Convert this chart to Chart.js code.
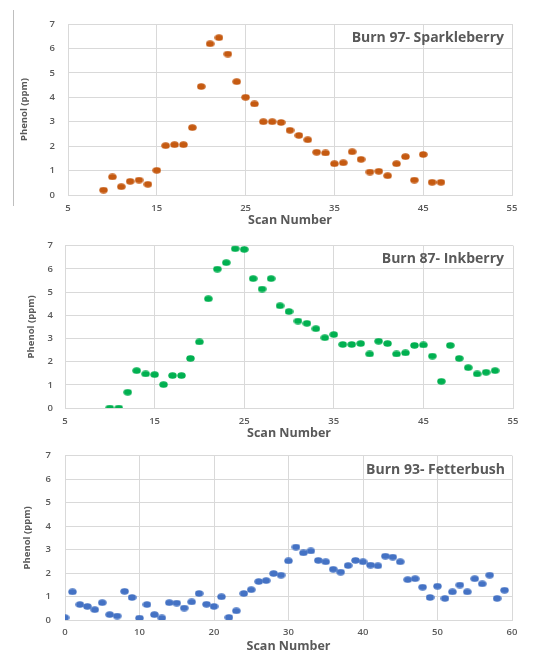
<!DOCTYPE html>
<html>
<head>
<meta charset="utf-8">
<script src="https://cdn.jsdelivr.net/npm/chart.js@4"></script>
<style>
  html, body { margin: 0; padding: 0; background: #ffffff; }
  body { width: 553px; height: 654px; position: relative; overflow: hidden; }
  .box { position: absolute; left: 0; width: 553px; }
  .frame { position: absolute; left: 13px; top: 10px; width: 0; height: 196px; border-left: 1px solid #bfbfbf; }
</style>
</head>
<body>
<div class="frame"></div>
<div class="box" style="top:0px;height:232px;"><canvas id="c1" width="553" height="232"></canvas></div>
<div class="box" style="top:228px;height:217px;"><canvas id="c2" width="553" height="217"></canvas></div>
<div class="box" style="top:436px;height:218px;"><canvas id="c3" width="553" height="218"></canvas></div>
<script>
// ---- Data ----
const chartTitles = ["Burn 97- Sparkleberry", "Burn 87- Inkberry", "Burn 93- Fetterbush"];
const xAxisTitle = "Scan Number";
const yAxisTitle = "Phenol (ppm)";

const sparkScans = [9,10,11,12,13,14,15,16,17,18,19,20,21,22,23,24,25,26,27,28,29,30,31,32,33,34,35,36,37,38,39,40,41,42,43,44,45,46,47];
const sparkPhenol = [0.20,0.74,0.34,0.56,0.61,0.44,1.01,2.02,2.06,2.06,2.76,4.44,6.19,6.44,5.77,4.64,4.00,3.73,3.00,3.00,2.97,2.65,2.44,2.26,1.75,1.72,1.28,1.32,1.77,1.46,0.94,0.97,0.79,1.28,1.57,0.61,1.66,0.52,0.52];

const inkScans = [10,11,12,13,14,15,16,17,18,19,20,21,22,23,24,25,26,27,28,29,30,31,32,33,34,35,36,37,38,39,40,41,42,43,44,45,46,47,48,49,50,51,52,53];
const inkPhenol = [0.00,0.00,0.68,1.61,1.47,1.44,1.01,1.40,1.40,2.14,2.85,4.71,5.99,6.27,6.87,6.84,5.58,5.13,5.58,4.41,4.16,3.75,3.65,3.42,3.03,3.17,2.74,2.74,2.78,2.33,2.88,2.78,2.33,2.38,2.70,2.72,2.24,1.15,2.70,2.14,1.74,1.47,1.54,1.61];

const fetterScans = [0,1,2,3,4,5,6,7,8,9,10,11,12,13,14,15,16,17,18,19,20,21,22,23,24,25,26,27,28,29,30,31,32,33,34,35,36,37,38,39,40,41,42,43,44,45,46,47,48,49,50,51,52,53,54,55,56,57,58,59];
const fetterPhenol = [0.10,1.20,0.66,0.58,0.44,0.74,0.23,0.17,1.22,0.96,0.08,0.66,0.23,0.09,0.74,0.72,0.51,0.77,1.13,0.67,0.58,0.99,0.11,0.39,1.13,1.29,1.64,1.68,1.98,1.91,2.52,3.11,2.86,2.94,2.54,2.48,2.16,2.04,2.32,2.54,2.48,2.34,2.31,2.72,2.68,2.48,1.72,1.76,1.40,0.96,1.44,0.92,1.20,1.49,1.20,1.76,1.54,1.91,0.92,1.27];

const yTicks = [0,1,2,3,4,5,6,7];
const xTicksA = [5,15,25,35,45,55];
const xTicksB = [0,10,20,30,40,50,60];

// ---- Styling ----
const FONT = "'Open Sans', 'Liberation Sans', sans-serif";
const TEXT = "#595959";
const GRID = "#d9d9d9";

function ellipseMarker(color) {
  const c = document.createElement('canvas');
  c.width = 9; c.height = 7;
  const g = c.getContext('2d');
  g.fillStyle = color;
  g.beginPath();
  g.ellipse(4.5, 3.5, 4.2, 3.2, 0, 0, Math.PI * 2);
  g.fill();
  return c;
}

const innerTitle = {
  id: 'innerTitle',
  afterDatasetsDraw(chart, args, opts) {
    const {ctx, chartArea} = chart;
    ctx.save();
    ctx.font = "bold 14px " + FONT;
    ctx.fillStyle = TEXT;
    ctx.textAlign = 'right';
    ctx.textBaseline = 'middle';
    ctx.fillText(opts.text, chartArea.right - opts.dx, chartArea.top + opts.dy);
    ctx.restore();
  }
};

function makeChart(id, cfg) {
  const pts = cfg.scans.map((s, i) => ({x: s, y: cfg.values[i]}));
  const marker = ellipseMarker(cfg.color);
  return new Chart(document.getElementById(id), {
    type: 'scatter',
    data: { datasets: [{ data: pts, pointStyle: marker, pointRadius: 4, pointHoverRadius: 4,
      backgroundColor: cfg.color, borderColor: cfg.color, borderWidth: 0 }] },
    options: {
      responsive: false,
      animation: false,
      events: [],
      layout: { padding: cfg.padding },
      plugins: {
        legend: { display: false },
        tooltip: { enabled: false },
        innerTitle: { text: cfg.title, dx: cfg.tdx, dy: cfg.tdy }
      },
      scales: {
        x: {
          type: 'linear',
          min: cfg.xTicks[0], max: cfg.xTicks[cfg.xTicks.length - 1],
          afterBuildTicks: (s) => { s.ticks = cfg.xTicks.map(v => ({value: v})); },
          grid: { color: GRID, lineWidth: 1, drawTicks: false },
          border: { color: GRID },
          ticks: { color: TEXT, font: { family: FONT, size: 9.5, weight: '600' }, padding: cfg.xtp, maxRotation: 0 },
          title: { display: true, text: xAxisTitle, color: TEXT, font: { family: FONT, size: 12.5, weight: 'bold' }, padding: { top: 0, bottom: cfg.xtitlePad } },
          afterFit: (s) => { s.height = cfg.xh; }
        },
        y: {
          min: 0, max: 7,
          afterBuildTicks: (s) => { s.ticks = yTicks.map(v => ({value: v})); },
          grid: { color: GRID, lineWidth: 1, drawTicks: false },
          border: { color: GRID },
          ticks: { color: TEXT, font: { family: FONT, size: 9.5, weight: '600' }, padding: cfg.ytp },
          title: { display: true, text: yAxisTitle, color: TEXT, font: { family: FONT, size: 9.5, weight: 'bold' }, padding: { top: 4, bottom: 0 } },
          afterFit: (s) => { s.width = cfg.yw; }
        }
      }
    },
    plugins: [innerTitle]
  });
}

makeChart('c1', { scans: sparkScans, values: sparkPhenol, color: '#C55A11', title: chartTitles[0],
  xTicks: xTicksA, padding: { top: 24, right: 41, left: 15, bottom: 0 }, yw: 53, xh: 37, xtp: 8, ytp: 13, xtitlePad: 4, tdx: 8, tdy: 14 });
makeChart('c2', { scans: inkScans, values: inkPhenol, color: '#00B050', title: chartTitles[1],
  xTicks: xTicksA, padding: { top: 12, right: 40, left: 22, bottom: 0 }, yw: 43, xh: 37, xtp: 8, ytp: 12, xtitlePad: 4, tdx: 9, tdy: 13 });
makeChart('c3', { scans: fetterScans, values: fetterPhenol, color: '#4472C4', title: chartTitles[2],
  xTicks: xTicksB, padding: { top: 12, right: 41, left: 18, bottom: 0 }, yw: 47, xh: 34, xtp: 7, ytp: 14, xtitlePad: 0, tdx: 7, tdy: 14 });
</script>
</body>
</html>
